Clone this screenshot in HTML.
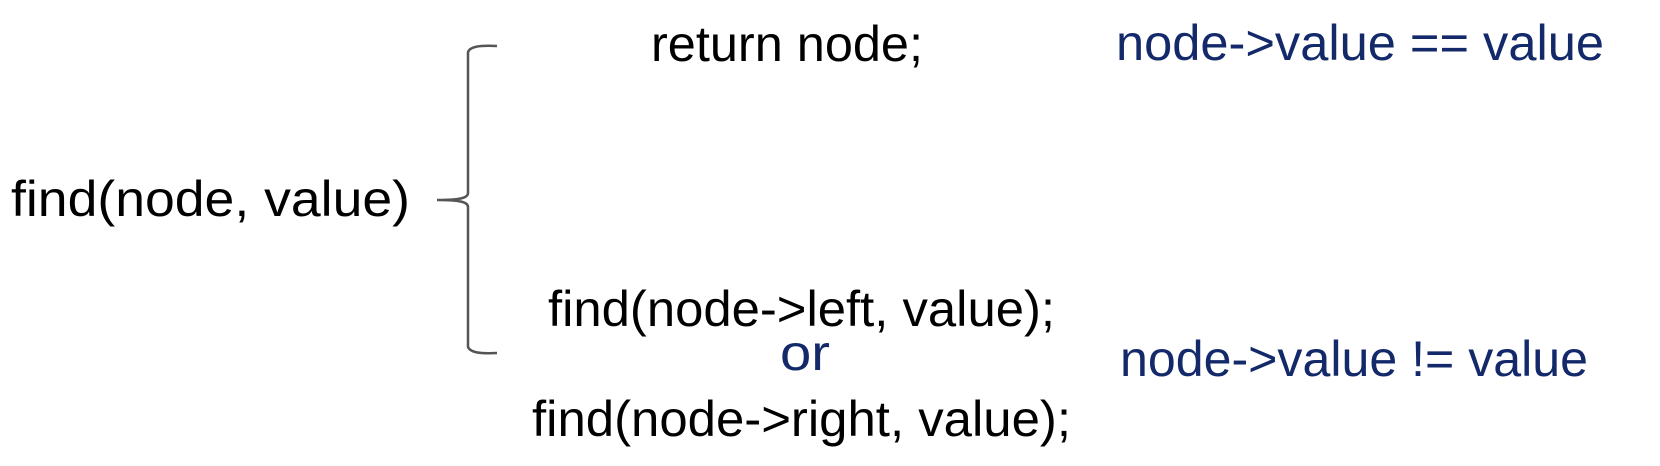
<!DOCTYPE html>
<html><head><style>
html,body{margin:0;padding:0;background:#fff;}
svg{display:block;}
text{font-family:"Liberation Sans",sans-serif;font-size:50px;}
</style></head><body>
<svg width="1660" height="466" viewBox="0 0 1660 466" xmlns="http://www.w3.org/2000/svg">
<path d="M497,46 C478,45 470,47 468,52 L468,193 C468,198 460,200 437,200 C460,200 468,202 468,207 L468,347 C470,352 478,354 497,353" fill="none" stroke="#555" stroke-width="2.5"/>
<text x="11" y="216" textLength="399" lengthAdjust="spacingAndGlyphs" fill="#000">find(node, value)</text>
<text x="651" y="61" textLength="272" lengthAdjust="spacingAndGlyphs" fill="#000">return node;</text>
<text x="1116" y="60" textLength="488" lengthAdjust="spacingAndGlyphs" fill="#13296a">node-&gt;value == value</text>
<text x="548" y="326" textLength="507" lengthAdjust="spacingAndGlyphs" fill="#000">find(node-&gt;left, value);</text>
<text x="780" y="370" textLength="50" lengthAdjust="spacingAndGlyphs" fill="#13296a">or</text>
<text x="532" y="436" textLength="539" lengthAdjust="spacingAndGlyphs" fill="#000">find(node-&gt;right, value);</text>
<text x="1120" y="376" textLength="468" lengthAdjust="spacingAndGlyphs" fill="#13296a">node-&gt;value != value</text>
</svg>
</body></html>
